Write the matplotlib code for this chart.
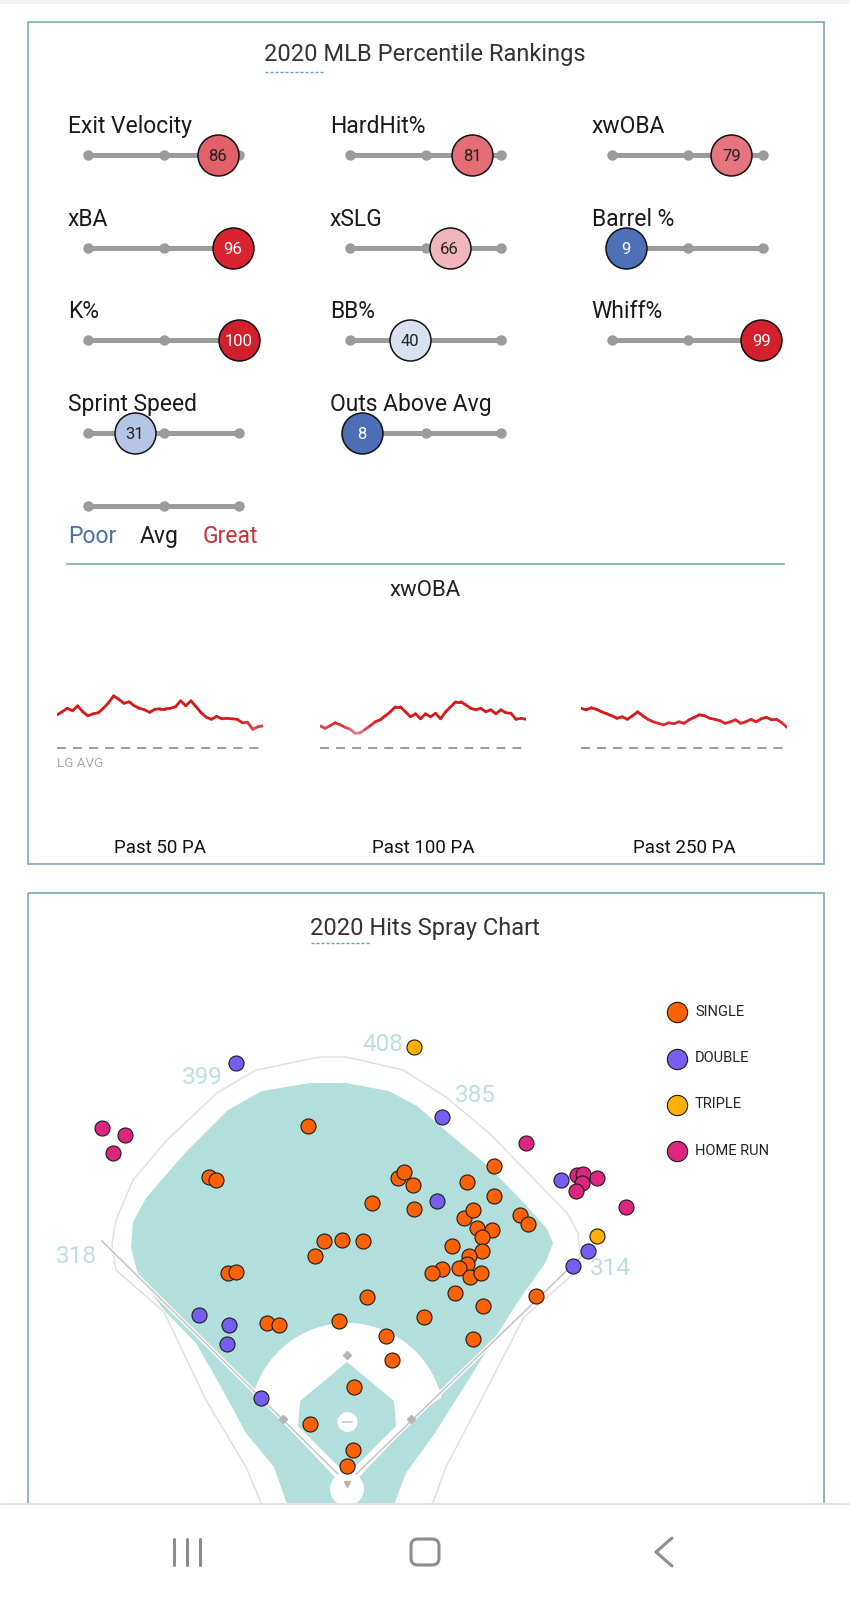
import numpy as np
import matplotlib
matplotlib.use('Agg')
import matplotlib.pyplot as plt
from matplotlib.collections import LineCollection
from matplotlib.colors import LinearSegmentedColormap, Normalize
from matplotlib.patches import Rectangle, Polygon, Circle, FancyBboxPatch

plt.rcParams['font.family'] = ['Roboto', 'DejaVu Sans']

W, H = 850, 1601

# ---- percentile rankings ----
metrics = ['Exit Velocity', 'HardHit%', 'xwOBA',
           'xBA', 'xSLG', 'Barrel %',
           'K%', 'BB%', 'Whiff%',
           'Sprint Speed', 'Outs Above Avg']
percentiles = [86, 81, 79, 96, 66, 9, 100, 40, 99, 31, 8]

# ---- rolling xwOBA ----
lg_avg = 0.320
xwoba_50 = [.386, .392, .399, .394, .404, .392, .384, .388, .390, .399, .410, .424, .417,
            .409, .412, .404, .399, .396, .391, .397, .398, .398, .399, .402, .414, .404,
            .414, .402, .390, .381, .377, .383, .378, .379, .378, .377, .370, .371, .357,
            .362, .364]
xwoba_100 = [.364, .359, .364, .370, .366, .361, .357, .349, .350, .357, .364, .372, .376,
             .384, .392, .402, .402, .392, .382, .388, .378, .388, .382, .389, .378, .392,
             .402, .412, .412, .406, .399, .396, .399, .392, .396, .388, .396, .390, .389,
             .377, .379, .377]
xwoba_250 = [.399, .396, .400, .397, .392, .388, .384, .379, .382, .377, .384, .392, .384,
             .377, .372, .369, .366, .370, .368, .372, .369, .376, .381, .386, .384, .379,
             .377, .374, .369, .372, .376, .369, .372, .377, .372, .378, .381, .376, .377,
             .370, .361]
window_labels = ['Past 50 PA', 'Past 100 PA', 'Past 250 PA']

# ---- spray chart (feet from home plate, x toward 1B, y toward CF) ----
single_x = [-37, -132, -125, 49, 55, 63, 24, 64, 115, 141, 141, 112, 121, 124, 139, 129,
            166, 173, 100, 129, 117, 115, 107, 91, 81, 118, 128, -22, -5, 15, -31, -114,
            -106, 103, 19, 181, 130, 74, -77, -65, -8, 37, 121, 43, 7, -35, 6, 0]
single_y = [342, 293, 290, 292, 298, 285, 268, 262, 288, 303, 275, 254, 261, 244, 242, 235,
            256, 248, 227, 222, 217, 210, 206, 205, 201, 197, 201, 232, 233, 232, 217, 201,
            202, 182, 178, 179, 169, 159, 153, 151, 155, 141, 138, 118, 92, 56, 32, 16]
double_x = [-106, 91, 86, 205, 231, 216, -142, -113, -115, -82]
double_y = [402, 350, 270, 290, 222, 208, 161, 151, 133, 81]
triple_x = [64, 239]
triple_y = [417, 236]
hr_x = [-234, -212, -224, 171, 220, 226, 239, 225, 219, 267]
hr_y = [340, 333, 316, 325, 295, 296, 292, 287, 279, 264]
hit_types = ['SINGLE', 'DOUBLE', 'TRIPLE', 'HOME RUN']
hit_colors = ['#fe6100', '#785ef0', '#ffb000', '#dc267f']
wall_dist = ['318', '399', '408', '385', '314']

fig = plt.figure(figsize=(8.5, 16.01), dpi=100)
bg = fig.add_axes([0, 0, 1, 1])
bg.set_xlim(0, W)
bg.set_ylim(H, 0)
bg.axis('off')


def px_axes(x0, y0, x1, y1):
    return fig.add_axes([x0 / W, 1 - y1 / H, (x1 - x0) / W, (y1 - y0) / H])


border = '#78adb0'
bg.add_patch(Rectangle((0, 0), W, 4, color='#f1f1f1', lw=0))
bg.add_patch(Rectangle((27.6, 21.5), 796.9, 842.5, fill=False, ec=border, lw=1.2))
bg.add_patch(Rectangle((27.6, 892.9), 796.9, 800, fill=False, ec=border, lw=1.2))

bg.text(425, 61, '2020 MLB Percentile Rankings', ha='center', va='baseline',
        fontsize=17, color='#333333')
bg.plot([264.6, 323.9], [71.5, 71.5], color='#6a9fc8', lw=1, dashes=(2.2, 1.4))

# ---- percentile sliders ----
pct_cmap = LinearSegmentedColormap.from_list('pct', [
    (0.0, '#3a60b0'), (0.1, '#5072b8'), (0.31, '#b5c5e5'), (0.4, '#d8e1f0'),
    (0.5, '#eeeeee'), (0.66, '#f1b6bb'), (0.8, '#e4717a'), (0.86, '#e2626b'),
    (0.96, '#d92330'), (1.0, '#d11f2b')])
col_left = [88, 350, 612]
label_x = [67.7, 330, 591.7]
slider_w = 151
row_y = [155, 248, 340, 433]
gray = '#9b9b9b'


def slider(x0, y):
    ax = px_axes(x0, y - 25, x0 + slider_w, y + 25)
    ax.set_xlim(0, 100)
    ax.set_ylim(-1, 1)
    ax.axis('off')
    ax.plot([0, 100], [0, 0], color=gray, lw=3.6, solid_capstyle='round', zorder=1,
            clip_on=False)
    ax.plot([0, 50, 100], [0, 0, 0], 'o', color=gray, ms=6.5, zorder=1, clip_on=False)
    return ax


for i, (name, pct) in enumerate(zip(metrics, percentiles)):
    r, c = divmod(i, 3)
    y = row_y[r]
    bg.text(label_x[c], y - 22.5, name, fontsize=16.5, va='baseline', color='#1a1a1a')
    ax = slider(col_left[c], y)
    ax.plot([pct], [0], 'o', ms=29.5, mfc=pct_cmap(pct / 100), mec='#111111', mew=1.1,
            clip_on=False, zorder=3)
    tc = 'white' if (pct <= 15 or pct >= 90) else '#222222'
    ax.text(pct, 0, str(pct), ha='center', va='center_baseline', fontsize=12, color=tc,
            zorder=4, clip_on=False)

slider(col_left[0], 506)
bg.text(67.7, 543, 'Poor', fontsize=16.5, va='baseline', color='#4a6fa5')
bg.text(140, 543, 'Avg', fontsize=16.5, va='baseline', color='#1a1a1a')
bg.text(202.3, 543, 'Great', fontsize=16.5, va='baseline', color='#c8333a')

bg.plot([67.4, 783.6], [564.3, 564.3], color=border, lw=1.2)
bg.text(425, 595.6, 'xwOBA', ha='center', va='baseline', fontsize=16, color='#222222')

# ---- rolling xwOBA sparklines ----
spark_cmap = LinearSegmentedColormap.from_list('sp', ['#e8959c', '#dc3a40', '#d7191c'])
spark_left = [57, 320, 581]
spark_w = 206
for k, (vals, lab) in enumerate(zip([xwoba_50, xwoba_100, xwoba_250], window_labels)):
    vals = np.array(vals)
    x0 = spark_left[k]
    ax = px_axes(x0, 680, x0 + spark_w, 755)
    ax.axis('off')
    xs = np.arange(len(vals))
    ax.set_xlim(0, len(vals) - 1)
    ax.set_ylim(lg_avg - 0.0144, lg_avg + 0.1356)
    ax.axhline(lg_avg, color='#9e9e9e', lw=1.5, dashes=(4.3, 3.4))
    pts = np.column_stack([xs, vals])
    segs = np.stack([pts[:-1], pts[1:]], axis=1)
    lc = LineCollection(segs, cmap=spark_cmap, norm=Normalize(0.345, 0.38),
                        linewidths=2.0, capstyle='round', joinstyle='round')
    lc.set_array((vals[:-1] + vals[1:]) / 2)
    ax.add_collection(lc)
    bg.text(x0 + spark_w / 2, 853, lab, ha='center', va='baseline', fontsize=13.5,
            color='#111111')
bg.text(57, 767, 'LG AVG', fontsize=9.7, va='baseline', color='#a8a8a8')

# ---- spray chart ----
bg.text(425, 934.8, '2020 Hits Spray Chart', ha='center', va='baseline', fontsize=17,
        color='#333333')
bg.plot([310.6, 369.8], [943, 943], color='#6a9fc8', lw=1, dashes=(2.2, 1.4))

SC = 1.045
HX, HY = 347, 1483


def P(px, py):
    return ((px - HX) / SC, (HY - py) / SC)


def pts_ft(lst):
    return np.array([P(a, b) for a, b in lst])


sp = px_axes(29, 894, 823, 1503)
sp.set_xlim((29 - HX) / SC, (823 - HX) / SC)
sp.set_ylim((HY - 1503) / SC, (HY - 894) / SC)
sp.axis('off')

teal = '#b2dfdb'
outer = [(262, 1505), (246, 1467), (206, 1400), (164, 1312), (116, 1270), (112, 1243),
         (116, 1220), (133, 1180), (167, 1140), (217, 1093), (256, 1070), (320, 1057),
         (346, 1057), (403, 1070), (446, 1097), (489, 1133), (528, 1173), (567, 1213),
         (578, 1233), (580, 1253), (578, 1270), (524, 1317), (481, 1400), (446, 1467),
         (432, 1505)]
o = pts_ft(outer)
sp.plot(o[:, 0], o[:, 1], color='#dedede', lw=1, zorder=1)

grass = [(131, 1247), (133, 1222), (146, 1198), (185, 1153), (228, 1110), (262, 1091),
         (310, 1083), (346, 1083), (389, 1091), (417, 1106), (453, 1137), (489, 1167),
         (524, 1203), (547, 1229), (553, 1243), (546, 1262), (521, 1297), (489, 1347),
         (464, 1387), (435, 1433), (406, 1473), (392, 1510), (289, 1510), (274, 1467),
         (246, 1433), (221, 1387), (196, 1343), (164, 1310), (138, 1275)]
sp.add_patch(Polygon(pts_ft(grass), closed=True, fc=teal, ec='none', zorder=2))

# infield dirt
cx, cy = P(347, 1420)
rad = 97 / SC
ang = np.radians(np.linspace(13.3, 164.6, 80))
arc = np.column_stack([cx + rad * np.cos(ang), cy + rad * np.sin(ang)])
lower = pts_ft([(276, 1412), (283, 1422), (347, 1490), (411, 1422), (418, 1412)])
sp.add_patch(Polygon(np.vstack([arc, lower]), closed=True, fc='white', ec='none', zorder=3))
infield = [(347, 1362), (300, 1401), (298, 1426), (340, 1468), (354, 1468), (396, 1426),
           (394, 1401)]
sp.add_patch(Polygon(pts_ft(infield), closed=True, fc=teal, ec='none', zorder=4))

# foul lines
for end in [(102, 1241), (585, 1253)]:
    fl = pts_ft([(HX, HY), end])
    sp.plot(fl[:, 0], fl[:, 1], color='white', lw=3, zorder=5, solid_capstyle='butt')
    sp.plot(fl[:, 0], fl[:, 1], color='#c4c4c4', lw=1.1, zorder=6)

bases = pts_ft([(347, 1355), (411, 1419), (283, 1419)])
sp.plot(bases[:, 0], bases[:, 1], 'D', color='#b5b5b5', ms=4, zorder=7)
sp.add_patch(Circle(P(347.5, 1422), 10 / SC, fc='white', ec='none', zorder=7))
rub = pts_ft([(343, 1422), (352, 1422)])
sp.plot(rub[:, 0], rub[:, 1], color='#c8c8c8', lw=1.2, zorder=8)
sp.add_patch(Circle(P(347, 1489), 17 / SC, fc='white', ec='none', zorder=7))
hp = P(347, 1484)
sp.plot([hp[0]], [hp[1]], 'v', color='#b5b5b5', ms=4, zorder=8)

label_pos = [(76.6, 1256.6), (202.8, 1077.5), (382.5, 1044), (475, 1095.3), (610, 1268)]
for txt, (lx, ly) in zip(wall_dist, label_pos):
    sp.text(*P(lx, ly), txt, ha='center', va='center', fontsize=17.5, color='#bde0dd',
            zorder=9)

handles = []
for xs_, ys_, col, lab in zip([single_x, double_x, triple_x, hr_x],
                              [single_y, double_y, triple_y, hr_y], hit_colors, hit_types):
    h = sp.scatter(xs_, ys_, s=117, c=col, edgecolors='#1a1a1a', linewidths=0.8,
                   zorder=10, label=lab)
    handles.append(h)

sp.legend(handles=handles, loc='upper left', bbox_to_anchor=(662 / W, 1 - 998 / H),
          bbox_transform=fig.transFigure, frameon=False, fontsize=10.5, labelspacing=2.2,
          handlelength=1.0, handletextpad=0.76, borderpad=0, markerscale=1.35,
          scatterpoints=1, labelcolor='#222222')

# ---- phone navigation bar ----
nav = px_axes(0, 1503, W, H)
nav.set_xlim(0, W)
nav.set_ylim(H, 1503)
nav.axis('off')
nav.add_patch(Rectangle((0, 1503), W, 100, color='white', zorder=0))
nav.plot([0, W], [1504, 1504], color='#e3e3e3', lw=1.5)
navc = '#8c8c8c'
for x in [174.5, 187.5, 200.5]:
    nav.plot([x, x], [1539, 1565], color=navc, lw=2.2, solid_capstyle='round')
nav.add_patch(FancyBboxPatch((411, 1539), 28, 26, boxstyle='round,pad=0,rounding_size=7',
                             fill=False, ec=navc, lw=2.2))
nav.plot([672, 656, 672], [1538, 1552, 1566], color=navc, lw=2.2,
         solid_capstyle='round', solid_joinstyle='round')

fig.savefig('out.png', dpi=100)
